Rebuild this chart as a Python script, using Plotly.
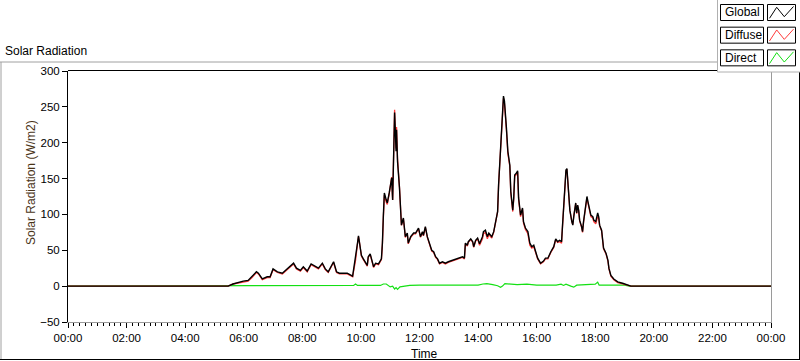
import plotly.graph_objects as go

# ---------------- data ----------------
times = ["00:00","05:28","05:38","05:53","05:59","06:09","06:17","06:26","06:30","06:38","06:48","06:54",
         "07:00","07:09","07:19","07:29","07:42","07:48","07:56","08:02","08:10","08:18","08:27","08:33",
         "08:41","08:47","08:53","08:59","09:04","09:10","09:16","09:24","09:32","09:43","09:45","09:49",
         "09:53","09:55","09:57","10:01","10:05","10:13","10:15","10:19","10:24","10:26","10:30","10:36",
         "10:42","10:44","10:46","10:48","10:52","10:54","10:58","11:03","11:05","11:07","11:09","11:11",
         "11:12","11:13","11:15","11:19","11:21","11:23","11:27","11:29","11:31","11:35","11:37","11:42",
         "11:48","11:52","11:56","11:58","12:02","12:06","12:08","12:12","12:16","12:21","12:25","12:29",
         "12:33","12:37","12:41","12:47","12:53","12:59","13:08","13:14","13:20","13:28","13:32","13:34",
         "13:38","13:40","13:45","13:49","13:51","13:55","13:59","14:03","14:09","14:11","14:15","14:19",
         "14:22","14:28","14:32","14:34","14:38","14:40","14:42","14:46","14:48","14:50","14:52","14:54",
         "14:56","14:58","15:01","15:05","15:07","15:09","15:11","15:13","15:15","15:19","15:21","15:23",
         "15:27","15:31","15:33","15:37","15:42","15:46","15:50","15:54","15:58","16:02","16:08","16:14",
         "16:18","16:23","16:29","16:35","16:39","16:43","16:47","16:51","16:53","16:55","16:57","17:00",
         "17:02","17:04","17:06","17:08","17:12","17:14","17:16","17:20","17:22","17:24","17:26","17:28",
         "17:32","17:34","17:36","17:41","17:43","17:45","17:49","17:51","17:55","17:57","18:01","18:05",
         "18:07","18:09","18:13","18:15","18:17","18:22","18:26","18:28","18:32","18:38","18:46","18:56",
         "19:07","19:13","24:00"]

global_vals = [0,0,3,6,7,8,13,20,18,10,13,13,
               24,20,18,24,32,25,22,27,21,31,27,25,
               32,24,20,27,34,20,18,18,18,14,22,39,
               60,70,62,43,38,29,41,45,32,27,32,31,
               38,60,99,130,120,116,130,151,120,204,242,207,
               188,218,174,137,97,85,95,83,69,74,60,69,
               74,74,78,81,69,76,71,83,69,60,50,48,
               41,38,32,34,32,34,36,38,39,41,39,60,
               57,62,66,62,55,64,67,59,69,76,78,69,
               74,69,76,83,95,104,141,188,216,253,265,258,
               244,221,188,169,132,118,106,123,155,158,161,123,
               99,109,90,81,76,60,55,57,48,39,32,35,
               39,39,48,55,66,62,64,62,85,113,141,162,
               164,148,132,106,90,85,97,116,102,113,106,92,
               83,76,90,116,125,118,104,99,97,92,90,102,
               97,85,78,64,53,46,36,25,15,10,6,4,
               1.4,0,0]

diffuse_vals = [0,0,3,5,6,7,12,19,17,9,12,12,
                23,19,17,23,31,24,21,26,20,30,26,24,
                31,23,19,26,33,19,17,17,17,13,20,36,
                59,69,61,42,37,28,40,44,31,26,31,30,
                37,58,96,127,117,114,129,152,120,206,246,209,
                192,222,178,138,97,85,94,82,68,73,59,68,
                73,73,77,80,68,75,70,82,68,59,49,47,
                40,37,31,33,31,33,35,37,38,40,38,59,
                56,61,65,61,54,63,66,57,66,73,75,66,
                72,67,75,82,94,104,141,189,216,251,262,255,
                241,218,185,167,130,116,104,121,153,156,159,121,
                97,107,88,79,73,57,53,55,47,38,31,34,
                38,38,47,54,65,61,62,60,84,111,140,160,
                163,147,131,106,90,86,98,115,101,112,105,91,
                82,75,89,114,123,116,102,97,95,90,87,97,
                95,84,77,63,52,45,35,24,14,9,5,3,
                0.5,0,0]

direct_times = ["00:00","05:28","05:40","09:45","09:49","09:53","10:40","10:46","10:52","10:56","11:00",
                "11:05","11:09","11:12","11:15","11:20","11:30","11:40","12:00","13:00","14:00","14:10",
                "14:18","14:30","14:40","14:46","14:50","14:55","15:05","15:20","15:40","16:00","16:40",
                "16:50","16:55","17:00","17:10","17:16","17:22","17:40","18:00","18:05","18:08","18:20",
                "18:40","19:00","19:10","24:00"]
direct_vals = [0,0,1,1,3,1,1,3,3,1.5,-1,
               0,-4,-2,-4.5,-1,0.5,1,1.4,1.4,1.4,3,
               3.5,2,0.5,-1.5,0,3.5,2.8,2,2.8,1.4,1.4,
               2.8,1,2.8,0,-1.4,1.4,2,2.8,5.6,1.4,1.4,
               1.4,1.4,0,0]

y_ticks = [-50, 0, 50, 100, 150, 200, 250, 300]
series_names = ["Global", "Diffuse", "Direct"]
series_colors = ["#000000", "#ff3a3a", "#14e014"]


def to_dt(t):
    if t == "24:00":
        return "2000-01-02 00:00"
    return "2000-01-01 " + t


# ---------------- geometry helpers (pixel -> paper) ----------------
W, H = 800, 361
L, R, T, B = 68, 771, 71, 322


def px(x):
    return (x - L) / (R - L)


def py(y):
    return (B - y) / (B - T)


fig = go.Figure()
fig.add_trace(go.Scatter(x=[to_dt(t) for t in direct_times], y=direct_vals, mode="lines",
                         line=dict(color=series_colors[2], width=1.2), name="Direct"))
fig.add_trace(go.Scatter(x=[to_dt(t) for t in times], y=diffuse_vals, mode="lines",
                         line=dict(color=series_colors[1], width=1.3), name="Diffuse"))
fig.add_trace(go.Scatter(x=[to_dt(t) for t in times], y=global_vals, mode="lines",
                         line=dict(color=series_colors[0], width=1.4), name="Global"))

font_family = "Liberation Sans, Arial, sans-serif"

shapes = []
# plot-area frame: top/left black, bottom/right gray
shapes.append(dict(type="line", xref="paper", yref="paper", x0=px(L), x1=px(R + 1), y0=py(T - 0.5), y1=py(T - 0.5),
                   line=dict(color="#000000", width=1)))
shapes.append(dict(type="line", xref="paper", yref="paper", x0=px(R + 0.5), x1=px(R + 0.5), y0=py(T), y1=py(B + 1),
                   line=dict(color="#9a9a9a", width=1)))
# outer frame
shapes.append(dict(type="line", xref="paper", yref="paper", x0=px(0), x1=px(717), y0=py(62), y1=py(62),
                   line=dict(color="#a0a0a0", width=1)))
shapes.append(dict(type="line", xref="paper", yref="paper", x0=px(1), x1=px(1), y0=py(62), y1=py(359),
                   line=dict(color="#a0a0a0", width=1)))
shapes.append(dict(type="line", xref="paper", yref="paper", x0=px(0), x1=px(800), y0=py(359.5), y1=py(359.5),
                   line=dict(color="#000000", width=1)))
shapes.append(dict(type="line", xref="paper", yref="paper", x0=px(799.5), x1=px(799.5), y0=py(72), y1=py(359.5),
                   line=dict(color="#000000", width=1)))
# legend container
shapes.append(dict(type="rect", xref="paper", yref="paper", x0=px(717), x1=px(801), y0=py(-1), y1=py(72),
                   line=dict(width=0), fillcolor="#ffffff", layer="above"))
shapes.append(dict(type="line", xref="paper", yref="paper", x0=px(717.5), x1=px(717.5), y0=py(0), y1=py(72),
                   line=dict(color="#b0b0b0", width=1), layer="above"))
shapes.append(dict(type="line", xref="paper", yref="paper", x0=px(717.5), x1=px(800), y0=py(72), y1=py(72),
                   line=dict(color="#b0b0b0", width=1), layer="above"))

annotations = []
for i, (nm, col) in enumerate(zip(series_names, series_colors)):
    dy = i * 22.67
    top, bot = 4.5 + dy, 20.5 + dy
    shapes.append(dict(type="rect", xref="paper", yref="paper", x0=px(720.5), x1=px(763.5), y0=py(top), y1=py(bot),
                       line=dict(color="#000000", width=1), fillcolor="#ffffff", layer="above"))
    shapes.append(dict(type="rect", xref="paper", yref="paper", x0=px(767.5), x1=px(795.5), y0=py(top), y1=py(bot),
                       line=dict(color="#000000", width=1), fillcolor="#ffffff", layer="above"))
    pts = [(769.5, 18.3 + dy), (776.7, 7.3 + dy), (784.3, 16.7 + dy), (793.5, 6.5 + dy)]
    path = "M " + " L ".join(f"{px(a)},{py(b)}" for a, b in pts)
    shapes.append(dict(type="path", xref="paper", yref="paper", path=path,
                       line=dict(color=col, width=1), layer="above"))
    annotations.append(dict(text=nm, xref="paper", yref="paper", x=px(722.5), y=py(12.5 + dy),
                            xanchor="left", yanchor="middle", showarrow=False,
                            font=dict(family=font_family, size=12, color="#000000")))

annotations.append(dict(text="Solar Radiation", xref="paper", yref="paper", x=px(3), y=py(51),
                        xanchor="left", yanchor="middle", showarrow=False,
                        font=dict(family=font_family, size=12, color="#000000")))
annotations.append(dict(text="Time", xref="paper", yref="paper", x=px(425), y=py(353.5),
                        xanchor="center", yanchor="middle", showarrow=False,
                        font=dict(family=font_family, size=12, color="#000000")))
annotations.append(dict(text="Solar Radiation (W/m2)", xref="paper", yref="paper", x=px(31), y=py(183),
                        xanchor="center", yanchor="middle", showarrow=False, textangle=-90,
                        font=dict(family=font_family, size=12, color="#4a3418")))

fig.update_layout(
    width=W, height=H,
    margin=dict(l=L, r=W - R, t=T, b=H - B, pad=0),
    paper_bgcolor="#ffffff", plot_bgcolor="#ffffff",
    showlegend=False,
    shapes=shapes,
    annotations=annotations,
    xaxis=dict(
        type="date",
        range=["2000-01-01 00:00", "2000-01-02 00:00"],
        dtick=7200000, tick0="2000-01-01 00:00", tickformat="%H:%M",
        ticks="outside", ticklen=5, tickcolor="#000000", tickwidth=1,
        minor=dict(dtick=720000, ticks="outside", ticklen=3, tickcolor="#000000", tickwidth=1),
        showgrid=False, zeroline=False,
        showline=True, linecolor="#9a9a9a", linewidth=1,
        tickfont=dict(family=font_family, size=11.5, color="#000000"),
        fixedrange=True,
    ),
    yaxis=dict(
        range=[-50, 300],
        tickvals=y_ticks,
        ticks="outside", ticklen=5, tickcolor="#000000", tickwidth=1,
        showgrid=False, zeroline=False,
        showline=True, linecolor="#000000", linewidth=1,
        tickfont=dict(family=font_family, size=11.5, color="#000000"),
        fixedrange=True,
    ),
)

fig.write_html("out.html", config={"displayModeBar": False},
               post_script="document.body.style.margin='0';document.body.style.overflow='hidden';")
